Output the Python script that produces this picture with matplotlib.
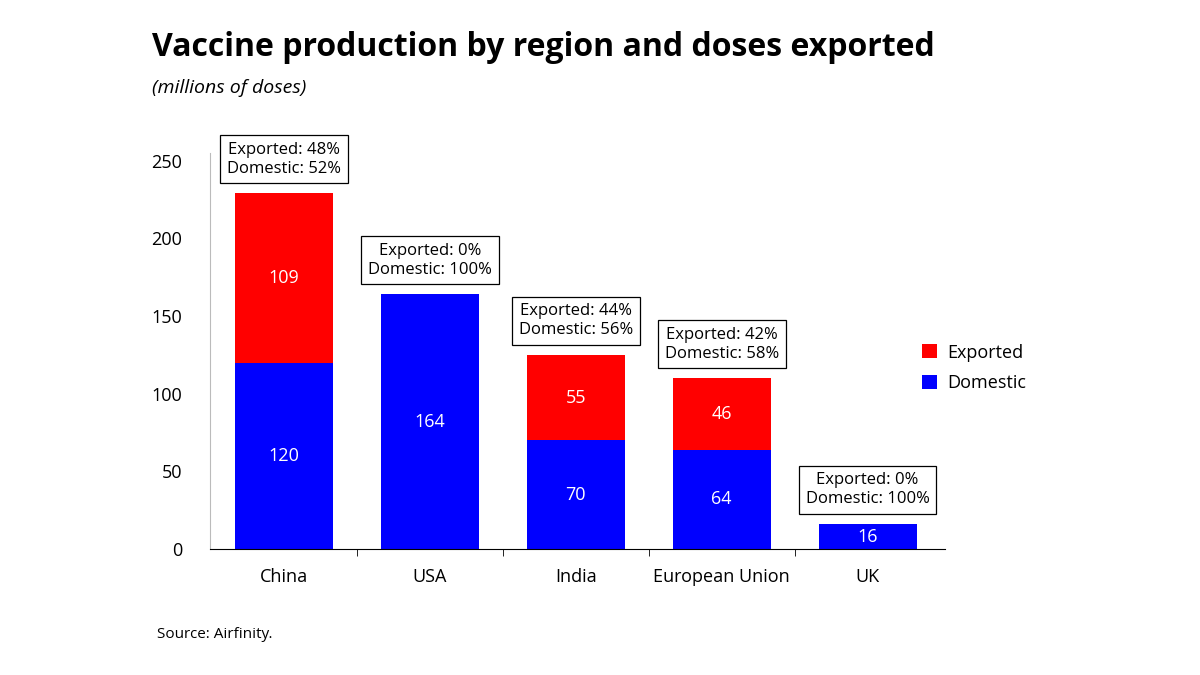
import matplotlib.pyplot as plt
import numpy as np

plt.rcParams["font.family"] = "Open Sans"

regions = ["China", "USA", "India", "European Union", "UK"]
domestic = [120, 164, 70, 64, 16]
exported = [109, 0, 55, 46, 0]
export_pct = [48, 0, 44, 42, 0]
domestic_pct = [52, 100, 56, 58, 100]

RED = "#ff0000"
BLUE = "#0000ff"

fig = plt.figure(figsize=(12, 6.75), dpi=100)
ax = fig.add_axes([0.175, 0.1867, 0.6125, 0.575])

x = np.arange(len(regions))
w = 0.67
ax.bar(x, domestic, w, color=BLUE, label="Domestic")
ax.bar(x, exported, w, bottom=domestic, color=RED, label="Exported")

for i in x:
    ax.text(i, domestic[i] / 2, str(domestic[i]), color="white", fontsize=13,
            ha="center", va="center")
    if exported[i]:
        ax.text(i, domestic[i] + exported[i] / 2, str(exported[i]), color="white",
                fontsize=13, ha="center", va="center")
    total = domestic[i] + exported[i]
    ax.annotate(f"Exported: {export_pct[i]}%\nDomestic: {domestic_pct[i]}%",
                (i, total), xytext=(0, 12), textcoords="offset points",
                ha="center", va="bottom", fontsize=12, linespacing=1.25,
                bbox=dict(boxstyle="square,pad=0.4", fc="white", ec="black", lw=0.9))

ax.set_xlim(-0.507, 4.53)
ax.set_ylim(0, 250)
ax.set_yticks([0, 50, 100, 150, 200, 250])
ax.set_xticks(x)
ax.set_xticklabels(regions)
ax.set_xticks(x[:-1] + 0.5, minor=True)
ax.tick_params(axis="x", which="major", length=0, labelsize=13, pad=14)
ax.tick_params(axis="x", which="minor", length=5, direction="out")
ax.tick_params(axis="y", length=0, labelsize=13, pad=20)
for s in ["top", "right"]:
    ax.spines[s].set_visible(False)
ax.spines["left"].set_bounds(0, 255)
ax.spines["left"].set_color("#bbbbbb")

handles, labels = ax.get_legend_handles_labels()
fig.legend(handles[::-1], labels[::-1], loc="center left",
           bbox_to_anchor=(0.755, 0.455), frameon=False, fontsize=13,
           handlelength=0.8, handleheight=0.8, handletextpad=0.6, labelspacing=0.7)

fig.text(0.127, 0.93, "Vaccine production by region and doses exported",
         fontsize=23, fontweight="bold", va="center")
fig.text(0.127, 0.87, "(millions of doses)", fontsize=14, style="italic", va="center")
fig.text(0.131, 0.06, "Source: Airfinity.", fontsize=11, va="center")

fig.savefig("out.png", dpi=100)
